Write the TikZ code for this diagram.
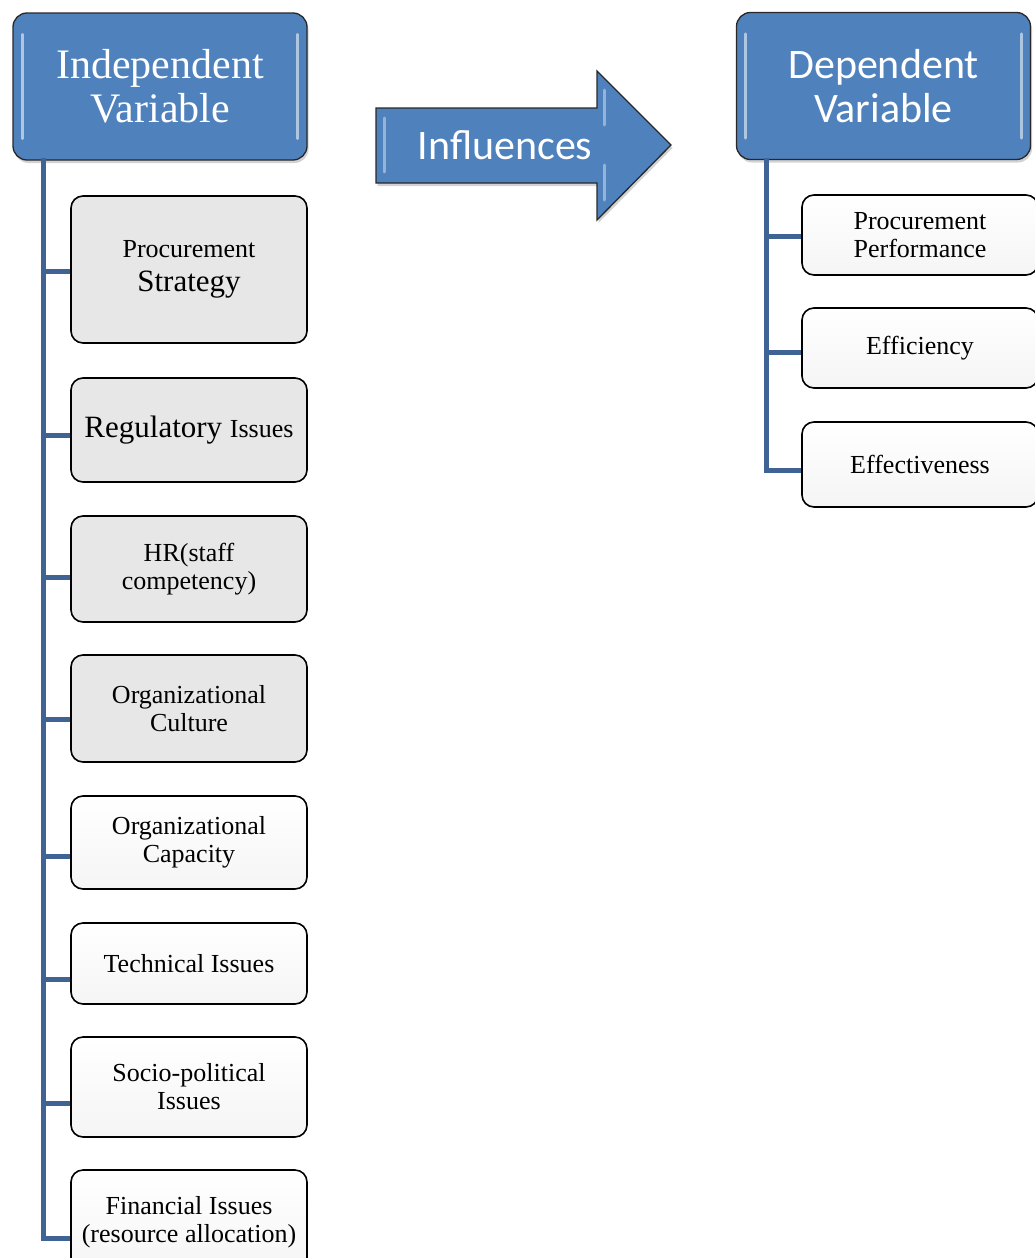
\documentclass[tikz,border=0pt]{standalone}
\usepackage{fontspec}
\setmainfont{Liberation Serif}
\newfontfamily\calib{Carlito}
\usetikzlibrary{shadows}
\definecolor{hblue}{RGB}{79,129,189}
\definecolor{hedge}{RGB}{40,40,40}
\definecolor{lineblue}{RGB}{62,99,148}
\definecolor{boxgray}{RGB}{231,231,231}
\begin{document}
\begin{tikzpicture}[x=1pt,y=-1pt,
  hdr/.style={draw=hedge, line width=1.3pt, fill=hblue, rounded corners=14pt,
    minimum width=294pt, minimum height=147pt, text=white, align=center,
    drop shadow={opacity=0.35, shadow xshift=1.5pt, shadow yshift=-3pt}},
  hilite/.style={white, opacity=0.55, line width=3pt, line cap=round},
  item/.style={draw=black, line width=1.6pt, rounded corners=12pt,
    minimum width=236pt, align=center, font=\fontsize{26}{28}\selectfont},
  grayitem/.style={item, fill=boxgray},
  whiteitem/.style={item, top color=white, bottom color=black!4},
  conn/.style={lineblue, line width=5pt}
]
\clip (0,0) rectangle (1035,1258);
\fill[white] (0,0) rectangle (1035,1258);

% headers
\node[hdr, font=\fontsize{42}{44}\selectfont] (ind) at (160,86.5) {Independent\\Variable};
\node[hdr, font=\calib\fontsize{42}{44}\selectfont] (dep) at (883.5,86) {Dependent\\Variable};
\foreach \h in {ind,dep}{
  \draw[hilite] ([xshift=10pt,yshift=-22pt]\h.north west) -- ([xshift=10pt,yshift=22pt]\h.south west);
  \draw[hilite] ([xshift=-10pt,yshift=-22pt]\h.north east) -- ([xshift=-10pt,yshift=22pt]\h.south east);
}

% arrow
\draw[fill=hblue, draw=hedge, line width=1.3pt,
  drop shadow={opacity=0.35, shadow xshift=1.5pt, shadow yshift=-3pt}]
  (376,108) -- (597,108) -- (597,71) -- (671,145) -- (597,220) -- (597,183) -- (376,183) -- cycle;
\draw[hilite, opacity=0.4] (384,118) -- (384,172);
\draw[hilite, opacity=0.4] (604,90) -- (604,125);
\draw[hilite, opacity=0.4] (604,165) -- (604,200);
\node[text=white, font=\calib\fontsize{42}{44}\selectfont] (infl) at (505,145) {Influences};

% left items
\node[grayitem, minimum height=147pt] (b1) at (189,269.5)
  {\fontsize{26}{28}\selectfont Procurement\\[6pt]\fontsize{31}{32}\selectfont Strategy};
\node[grayitem, minimum height=104pt] (b2) at (189,430)
  {\fontsize{31}{32}\selectfont Regulatory \fontsize{26}{28}\selectfont Issues};
\node[grayitem, minimum height=106pt] (b3) at (189,569) {HR(staff\\competency)};
\node[grayitem, minimum height=107pt] (b4) at (189,708.5) {Organizational\\Culture};
\node[whiteitem, minimum height=93pt] (b5) at (189,842.5) {Organizational\\Capacity};
\node[whiteitem, minimum height=81pt] (b6) at (189,963.5) {Technical Issues};
\node[whiteitem, minimum height=100pt] (b7) at (189,1087) {Socio-political\\Issues};
\node[whiteitem, minimum height=104pt] (b8) at (189,1222) {Financial Issues\\(resource allocation)};

% left spine
\coordinate (ls0) at (43,158);
\coordinate (ls1) at (43,271);
\coordinate (ls2) at (43,435);
\coordinate (ls3) at (43,577);
\coordinate (ls4) at (43,719);
\coordinate (ls5) at (43,856);
\coordinate (ls6) at (43,979);
\coordinate (ls7) at (43,1103);
\coordinate (ls8) at (43,1238);
\draw[conn] (ls0) -- (ls8) -- (ls8 -| b8.west);
\foreach \i in {1,...,7}{
  \draw[conn] (ls\i) -- (ls\i -| b\i.west);
}

% right items
\node[whiteitem, minimum height=80pt] (r1) at (920,235) {Procurement\\Performance};
\node[whiteitem, minimum height=80pt] (r2) at (920,348) {Efficiency};
\node[whiteitem, minimum height=85pt] (r3) at (920,464.5) {Effectiveness};

\coordinate (rs0) at (766,158);
\coordinate (rs1) at (766,236);
\coordinate (rs2) at (766,352);
\coordinate (rs3) at (766,470);
\draw[conn] (rs0) -- (rs3) -- (rs3 -| r3.west);
\draw[conn] (rs1) -- (rs1 -| r1.west);
\draw[conn] (rs2) -- (rs2 -| r2.west);
\end{tikzpicture}
\end{document}
